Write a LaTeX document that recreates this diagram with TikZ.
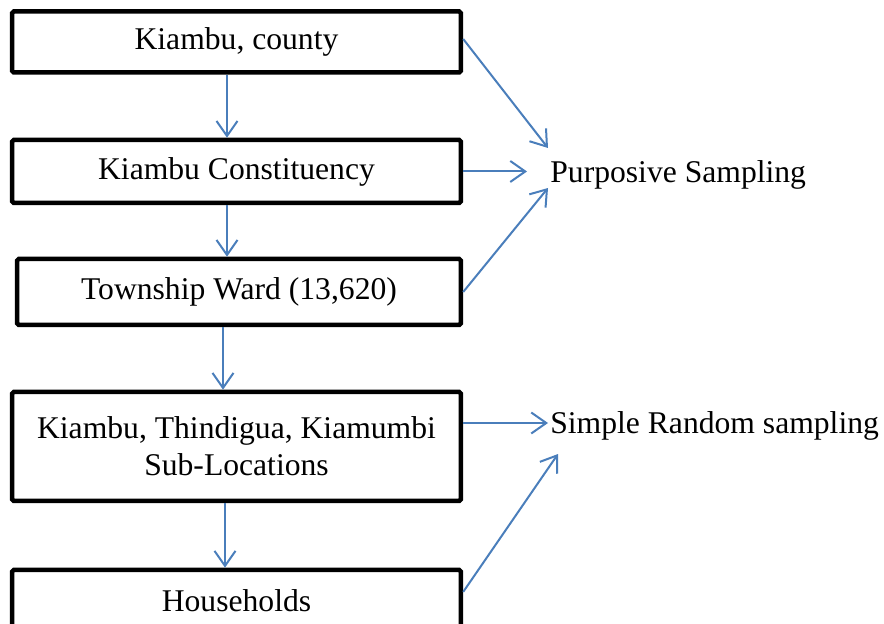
\documentclass[tikz,border=0pt]{standalone}
\usepackage{fontspec}
\setmainfont{Liberation Serif}
\usetikzlibrary{arrows.meta,positioning}
\definecolor{linkblue}{HTML}{4A7EBB}
\tikzset{
  level/.style={rectangle,rounded corners=1pt,draw=black,line width=0.09cm,fill=white,align=center,inner sep=0pt,minimum width=8.98cm,font=\fontsize{18}{21}\selectfont},
  method/.style={anchor=west,inner sep=0pt,font=\fontsize{18}{21}\selectfont},
  arrow/.style={-{Straight Barb[length=0.3cm,width=0.42cm]},line width=0.04cm,linkblue}
}

\begin{document}
\begin{tikzpicture}[x=0.02cm,y=-0.02cm]
    \useasboundingbox (0,0) rectangle (884,624);
    \clip (0,0) rectangle (884,624);
    \node[level,minimum height=1.22cm] (county) at (236.5,42) {Kiambu, county};
    \node[level,below=1.26cm of county,minimum height=1.26cm] (constituency) {Kiambu Constituency};
    \node[level,below=1.03cm of constituency,xshift=0.05cm,minimum width=8.88cm,minimum height=1.32cm] (township) {Township Ward (13,620)};
    \node[level,below=1.25cm of township,xshift=-0.05cm,minimum height=2.18cm] (sublocs) {Kiambu, Thindigua, Kiamumbi\\Sub-Locations};
    \node[level,below=1.29cm of sublocs,minimum height=1.24cm] (households) {Households};

    \node[method] (purposive) at (550,175) {Purposive Sampling};
    \node[method] (simple) at (550,426) {Simple Random sampling};
    \coordinate (purp-top) at (548,148);
    \coordinate (purp-mid) at (527,172);
    \coordinate (purp-low) at (548,188);
    \coordinate (simp-mid) at (548,423);
    \coordinate (simp-low) at (558,454);

    \draw[arrow] ([xshift=-0.19cm]county.south) -- ([xshift=-0.19cm]constituency.north);
    \draw[arrow] ([xshift=-0.19cm]constituency.south) -- ([xshift=-0.19cm]constituency.south |- township.north);
    \draw[arrow] ([xshift=-0.27cm]sublocs.north |- township.south) -- ([xshift=-0.27cm]sublocs.north);
    \draw[arrow] ([xshift=-0.23cm]sublocs.south) -- ([xshift=-0.23cm]households.north);

    \draw[arrow] ([yshift=0.06cm]county.east) -- (purp-top);
    \draw[arrow] (constituency.east) -- (constituency.east -| purp-mid);
    \draw[arrow] (township.east) -- (purp-low);
    \draw[arrow] (sublocs.east |- simp-mid) -- (simp-mid);
    \draw[arrow] ([yshift=0.18cm]households.east) -- (simp-low);
\end{tikzpicture}
\end{document}
